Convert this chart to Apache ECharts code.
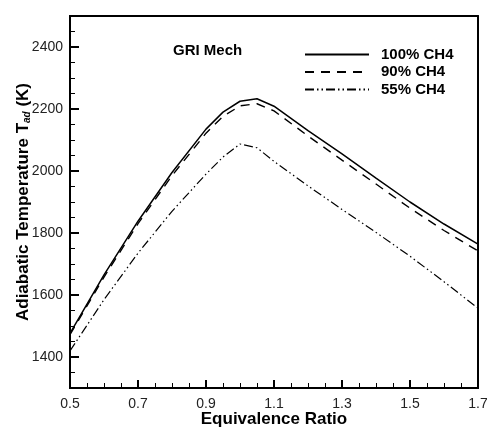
<!DOCTYPE html>
<html>
<head>
<meta charset="utf-8">
<script src="https://cdn.jsdelivr.net/npm/echarts@6/dist/echarts.min.js"></script>
<style>html,body{margin:0;padding:0;background:#fff}#c{width:487px;height:427px}</style>
</head>
<body>
<div id="c"></div>
<script>
const phi = [0.5, 0.6, 0.7, 0.8, 0.9, 0.95, 1.0, 1.05, 1.1, 1.2, 1.3, 1.4, 1.5, 1.6, 1.7];
const ch4_100 = [1476, 1665, 1838, 1995, 2135, 2190, 2225, 2233, 2209, 2130, 2055, 1977, 1900, 1829, 1764];
const ch4_90  = [1472, 1658, 1830, 1985, 2122, 2176, 2210, 2217, 2194, 2113, 2035, 1958, 1880, 1808, 1742];
const ch4_55  = [1420, 1585, 1735, 1870, 1990, 2045, 2087, 2075, 2031, 1952, 1876, 1802, 1725, 1643, 1557];
const seriesNames = ['100% CH4', '90% CH4', '55% CH4'];
const xMajor = [0.5, 0.7, 0.9, 1.1, 1.3, 1.5, 1.7];
const yMajor = [1400, 1600, 1800, 2000, 2200, 2400];
const xMinor = [0.55,0.6,0.65,0.75,0.8,0.85,0.95,1.0,1.05,1.15,1.2,1.25,1.35,1.4,1.45,1.55,1.6,1.65];
const yMinor = [1350,1450,1500,1550,1650,1700,1750,1850,1900,1950,2050,2100,2150,2250,2300,2350,2450];

const pair = arr => phi.map((p, i) => [p, arr[i]]);
const font = 'Liberation Sans, Arial, sans-serif';

const chart = echarts.init(document.getElementById('c'));
chart.setOption({
  animation: false,
  grid: { left: 70, right: 9, top: 16, bottom: 39, show: false, outerBoundsMode: 'none', containLabel: false },
  legend: {
    orient: 'vertical', left: 299, top: 42, itemWidth: 64, itemHeight: 14, itemGap: 2.5,
    itemStyle: { opacity: 0 },
    textStyle: { fontFamily: font, fontWeight: 'bold', fontSize: 15, color: '#000', padding: [0, 0, 0, 7] },
    data: seriesNames
  },
  graphic: [{
    type: 'text', left: 173, top: 43,
    style: { text: 'GRI Mech', font: 'bold 15px ' + font, fill: '#000' }
  }],
  xAxis: [{
    type: 'value', min: 0.5, max: 1.7,
    name: 'Equivalence Ratio', nameLocation: 'middle', nameGap: 23, nameMoveOverlap: false,
    nameTextStyle: { fontFamily: font, fontWeight: 'bold', fontSize: 17, color: '#000' },
    axisLine: { show: true, lineStyle: { color: '#000', width: 2 } },
    axisTick: { show: true, inside: true, length: 8, customValues: xMajor, lineStyle: { color: '#000', width: 2 } },
    axisLabel: { customValues: xMajor, margin: 9, fontFamily: font, fontSize: 14, color: '#222',
                 formatter: v => v.toFixed(1) },
    splitLine: { show: false }
  }, {
    type: 'value', min: 0.5, max: 1.7, position: 'bottom',
    axisLine: { show: true, lineStyle: { color: '#000', width: 2 } },
    axisTick: { show: true, inside: true, length: 5, customValues: xMinor, lineStyle: { color: '#000', width: 1 } },
    axisLabel: { show: false }, splitLine: { show: false }
  }, {
    type: 'value', min: 0.5, max: 1.7, position: 'top',
    axisLine: { show: true, lineStyle: { color: '#000', width: 2 } },
    axisTick: { show: false }, axisLabel: { show: false }, splitLine: { show: false }
  }],
  yAxis: [{
    type: 'value', min: 1300, max: 2500,
    name: '{a|Adiabatic Temperature T}{s|ad}{a| (K)}', nameLocation: 'middle', nameGap: 38, nameMoveOverlap: false,
    nameTextStyle: {
      rich: {
        a: { fontFamily: font, fontWeight: 'bold', fontSize: 17, color: '#000' },
        s: { fontFamily: font, fontWeight: 'bold', fontStyle: 'italic', fontSize: 10, color: '#000',
             verticalAlign: 'bottom', padding: [8, 0, 0, 0] }
      }
    },
    axisLine: { show: true, lineStyle: { color: '#000', width: 2 } },
    axisTick: { show: true, inside: true, length: 9, customValues: yMajor, lineStyle: { color: '#000', width: 2 } },
    axisLabel: { customValues: yMajor, margin: 7, fontFamily: font, fontSize: 14, color: '#222', formatter: v => String(v) },
    splitLine: { show: false }
  }, {
    type: 'value', min: 1300, max: 2500, position: 'left',
    axisLine: { show: true, lineStyle: { color: '#000', width: 2 } },
    axisTick: { show: true, inside: true, length: 5, customValues: yMinor, lineStyle: { color: '#000', width: 1 } },
    axisLabel: { show: false }, splitLine: { show: false }
  }, {
    type: 'value', min: 1300, max: 2500, position: 'right',
    axisLine: { show: true, lineStyle: { color: '#000', width: 2 } },
    axisTick: { show: false }, axisLabel: { show: false }, splitLine: { show: false }
  }],
  series: [
    { name: seriesNames[0], type: 'line', data: pair(ch4_100), symbol: 'none',
      lineStyle: { color: '#000', width: 1.5, type: 'solid' }, itemStyle: { color: '#000' } },
    { name: seriesNames[1], type: 'line', data: pair(ch4_90), symbol: 'none',
      lineStyle: { color: '#000', width: 1.4, type: [9, 7] }, itemStyle: { color: '#000' } },
    { name: seriesNames[2], type: 'line', data: pair(ch4_55), symbol: 'none',
      lineStyle: { color: '#000', width: 1.2, type: [9, 3, 1.5, 3, 1.5, 3] }, itemStyle: { color: '#000' } }
  ]
});
</script>
</body>
</html>
